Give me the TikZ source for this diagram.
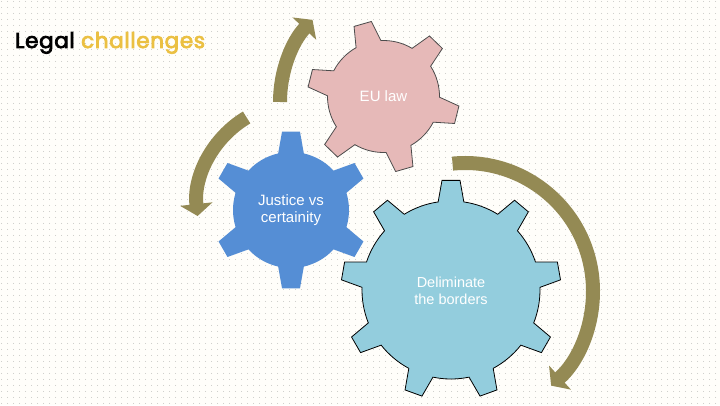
\documentclass[tikz,border=0pt]{standalone}
\usepackage{fontspec}
\setmainfont{Liberation Sans}
\newfontfamily\titlefont{Poppins}[FakeBold=3.5,LetterSpace=3]
\usetikzlibrary{arrows.meta,patterns.meta}
\definecolor{pinkg}{HTML}{E6B9B8}
\definecolor{blueg}{HTML}{558ED5}
\definecolor{aquag}{HTML}{93CDDD}
\definecolor{olive}{HTML}{948A54}
\definecolor{gold}{HTML}{EBC042}
\definecolor{bgcream}{HTML}{FFFEFA}
\definecolor{dotgray}{HTML}{C0C0BC}
\tikzdeclarepattern{
  name=bgdots,
  type=uncolored,
  bounding box={(0pt,0pt) and (6pt,6pt)},
  tile size={(6pt,6pt)},
  code={\fill (3pt,3pt) circle (0.55pt);}
}
% style, center, n, n-1, outer r, inner r, first tooth angle, tip half-angle, base half-angle
\newcommand\mygear[9]{%
  \path[#1,shift={(#2)}] ({#7-360/#3+#9}:#6)
  \foreach \k in {0,...,#4}{
    arc[start angle={#7+(\k-1)*360/#3+#9}, end angle={#7+\k*360/#3-#9}, radius=#6]
    -- ({#7+\k*360/#3-#8}:#5) -- ({#7+\k*360/#3+#8}:#5) -- ({#7+\k*360/#3+#9}:#6)
  } -- cycle;
}
\tikzset{
  gtext/.style={text=white, font=\fontsize{15}{16.5}\selectfont, align=center, inner sep=0pt},
  cyclearrow/.style={draw=olive, line width=14pt, -{Triangle[width=32pt,length=12pt]}},
}
\begin{document}
\begin{tikzpicture}[x=1pt,y=1pt]
\useasboundingbox (0,0) rectangle (720,405);
\fill[bgcream] (0,0) rectangle (720,405);
\fill[pattern=bgdots, pattern color=dotgray] (0,0) rectangle (720,405);

% title
\node[anchor=base west, inner sep=0pt] (title) at (15,357)
  {\titlefont\fontsize{21.5}{24}\selectfont Legal \textcolor{gold}{challenges}};

% arc centres
\coordinate (ctop) at (400,303);
\coordinate (cleft) at (299,200);
\coordinate (cright) at (465,114);

% arrows
\draw[cyclearrow] ([shift={(180:120)}]ctop) arc[start angle=180, end angle=136.8, radius=120];
\draw[cyclearrow] ([shift={(120.9:102)}]cleft) arc[start angle=120.9, end angle=186.2, radius=102];
\draw[cyclearrow] ([shift={(95.6:128)}]cright) arc[start angle=95.6, end angle=-47.7, radius=128];

% gears
\mygear{fill=pinkg, draw=black!70, line width=0.8pt}{383.5,308.5}{6}{5}{76}{56}{106}{6.8}{13.3}
\mygear{fill=blueg}{291,195}{6}{5}{79}{58}{90}{6.5}{12.8}
\mygear{fill=aquag, draw=black, line width=0.8pt}{451,115}{9}{8}{110}{89}{90}{4.7}{8.3}

% labels
\node[gtext] (eu) at (383.5,308.5) {EU law};
\node[gtext] (justice) at (291,195) {Justice vs\\certainity};
\node[gtext, font=\fontsize{14.5}{16.5}\selectfont] (borders) at (451,114) {Deliminate\\the borders};
\end{tikzpicture}
\end{document}
